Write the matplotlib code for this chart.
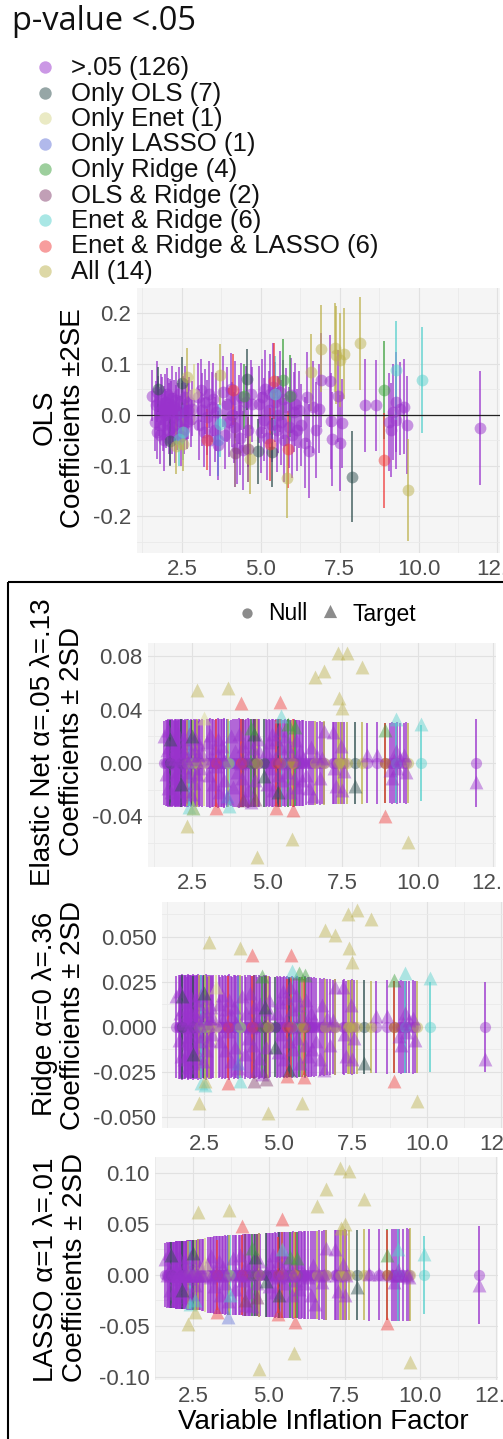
import matplotlib
matplotlib.use("Agg")
import matplotlib.pyplot as plt
from matplotlib.patches import Rectangle
import numpy as np

plt.rcParams['font.family'] = ['Liberation Sans', 'DejaVu Sans']
plt.rcParams['axes.unicode_minus'] = False

# ---------------- groups ----------------
group_labels = [">.05 (126)", "Only OLS (7)", "Only Enet (1)", "Only LASSO (1)",
                "Only Ridge (4)", "OLS & Ridge (2)", "Enet & Ridge (6)",
                "Enet & Ridge & LASSO (6)", "All (14)"]
group_n = [126, 7, 1, 1, 4, 2, 6, 6, 14]
group_colors = ["#9932CC", "#2F4F4F", "#D6D68A", "#6575D8", "#3CA03C",
                "#85406F", "#55D0CC", "#F03C3C", "#BDB24E"]

# ---------------- variable inflation factor ----------------
vif = (
    [1.57, 1.65, 1.68, 1.70, 1.72, 1.75, 1.78, 1.82, 1.85, 1.88,
     1.90, 1.93, 1.95, 1.97, 1.98, 2.00, 2.02, 2.05, 2.08, 2.10,
     2.12, 2.13, 2.15, 2.18, 2.20, 2.23, 2.26, 2.28, 2.30, 2.33,
     2.36, 2.38, 2.40, 2.43, 2.47, 2.50, 2.53, 2.56, 2.60, 2.63,
     2.66, 2.70, 2.74, 2.78, 2.82,
     3.00, 3.05, 3.10, 3.15, 3.20, 3.25, 3.30, 3.35, 3.40, 3.45,
     3.50, 3.55, 3.58, 3.65, 3.80, 3.87, 3.93, 4.00, 4.05, 4.10,
     4.15, 4.20, 4.25, 4.30, 4.35, 4.38, 4.45, 4.52, 4.60, 4.68,
     4.72,
     4.95, 5.00, 5.05, 5.10, 5.15, 5.20, 5.25, 5.30, 5.35, 5.40,
     5.45, 5.50, 5.55, 5.60, 5.65, 5.70, 5.75, 5.80, 5.90, 5.95,
     6.00, 6.05, 6.10, 6.15, 6.20, 6.28,
     6.40, 6.47, 6.53, 6.66, 6.76, 6.83, 6.90, 7.20, 7.22, 7.27,
     7.46, 7.50, 7.56, 8.30, 8.65, 9.07, 9.13, 9.20, 9.27, 9.30,
     9.42, 9.55, 9.62,
     11.95]
    + [1.76, 2.12, 2.50, 4.55, 4.90, 5.35, 7.90]          # Only OLS
    + [2.90]                                            # Only Enet
    + [3.65]                                            # Only LASSO
    + [4.46, 5.70, 5.92, 8.90]                          # Only Ridge
    + [4.20, 4.60]                                      # OLS & Ridge
    + [2.40, 2.55, 3.72, 5.45, 9.27, 10.12]             # Enet & Ridge
    + [3.30, 4.12, 5.30, 5.42, 5.86, 8.90]              # Enet & Ridge & LASSO
    + [2.33, 2.55, 2.67, 3.70, 4.66, 5.82, 6.59, 6.90, 7.36, 7.38,
       7.50, 7.64, 8.14, 9.67]                          # All
)

# ---------------- OLS coefficients and standard errors ----------------
ols_coef = (
    [0.037, -0.015, 0.018, 0.045, -0.035, 0.022, 0.005, -0.040, 0.030, 0.012,
     -0.020, 0.008, -0.050, 0.025, 0.000, -0.010, 0.040, 0.015, -0.030, 0.003,
     -0.045, 0.020, 0.010, -0.025, 0.033, -0.005, 0.015, -0.038, 0.008, 0.028,
     -0.018, 0.002, 0.040, -0.012, -0.042, 0.010, 0.020, -0.028, 0.035, 0.005,
     -0.015, 0.010, 0.025, -0.008, 0.012,
     0.035, -0.020, 0.048, 0.010, -0.035, 0.025, -0.005, 0.040, -0.050, 0.015,
     0.030, -0.030, 0.005, -0.060, 0.045, -0.040, 0.020, -0.015, 0.050, 0.000,
     -0.025, 0.030, -0.065, 0.010, -0.045, 0.035, -0.070, 0.025, -0.030, 0.040,
     0.020,
     0.020, -0.035, 0.035, -0.010, 0.050, -0.045, 0.010, 0.040, -0.020, 0.055,
     0.025, -0.030, 0.000, 0.045, -0.015, 0.030, -0.050, 0.015, -0.025, 0.038,
     -0.040, 0.005, 0.020, -0.030, 0.010, -0.020,
     -0.055, 0.035, -0.072, 0.015, -0.030, 0.012, 0.068, 0.066, -0.012, -0.048,
     0.037, -0.056, -0.017, 0.018, 0.018, -0.014, -0.030, 0.005, 0.025, -0.010,
     0.012, 0.016, -0.020,
     -0.027]
    + [0.050, -0.052, 0.062, 0.070, -0.072, -0.074, -0.122]
    + [0.040]
    + [-0.050]
    + [0.036, 0.069, 0.037, 0.049]
    + [-0.075, -0.068]
    + [-0.047, -0.035, -0.018, 0.040, 0.087, 0.068]
    + [-0.049, 0.049, -0.058, 0.066, -0.068, -0.090]
    + [-0.062, -0.058, 0.075, 0.078, -0.088, -0.124, 0.083, 0.130, 0.132, 0.117,
       0.107, 0.120, 0.140, -0.148]
)
ols_se = (
    [0.025, 0.028, 0.024, 0.030, 0.026, 0.027, 0.023, 0.029, 0.025, 0.031,
     0.026, 0.024, 0.030, 0.027, 0.025, 0.028, 0.026, 0.029, 0.024, 0.030,
     0.027, 0.025, 0.028, 0.026, 0.031, 0.024, 0.027, 0.029, 0.025, 0.028,
     0.026, 0.030, 0.027, 0.024, 0.029, 0.026, 0.028, 0.025, 0.030, 0.027,
     0.026, 0.029, 0.025, 0.028, 0.027,
     0.033, 0.035, 0.031, 0.036, 0.034, 0.032, 0.037, 0.033, 0.035, 0.034,
     0.036, 0.032, 0.038, 0.034, 0.035, 0.033, 0.037, 0.034, 0.036, 0.032,
     0.035, 0.038, 0.036, 0.034, 0.037, 0.033, 0.039, 0.035, 0.036, 0.034,
     0.037,
     0.038, 0.040, 0.037, 0.041, 0.039, 0.042, 0.038, 0.040, 0.037, 0.043,
     0.039, 0.041, 0.038, 0.040, 0.042, 0.039, 0.041, 0.038, 0.040, 0.037,
     0.042, 0.039, 0.041, 0.040, 0.038, 0.040,
     0.045, 0.044, 0.046, 0.045, 0.047, 0.044, 0.046, 0.045, 0.047, 0.046,
     0.045, 0.047, 0.044, 0.046, 0.045, 0.048, 0.046, 0.047, 0.049, 0.048,
     0.046, 0.047, 0.048,
     0.056]
    + [0.022, 0.024, 0.026, 0.030, 0.032, 0.034, 0.045]
    + [0.030]
    + [0.035]
    + [0.032, 0.040, 0.040, 0.048]
    + [0.034, 0.032]
    + [0.027, 0.027, 0.033, 0.038, 0.049, 0.052]
    + [0.030, 0.035, 0.036, 0.037, 0.038, 0.047]
    + [0.027, 0.026, 0.028, 0.030, 0.034, 0.040, 0.038, 0.043, 0.044, 0.048,
       0.046, 0.045, 0.046, 0.050]
)

# ---------------- Elastic net: target coefficients and null SD ----------------
enet_coef = (
    [0.020, -0.008, 0.010, 0.025, -0.019, 0.012, 0.003, -0.022, 0.016, 0.007,
     -0.011, 0.004, -0.027, 0.014, 0.000, -0.006, 0.022, 0.008, -0.016, 0.002,
     -0.025, 0.011, 0.006, -0.014, 0.018, -0.003, 0.008, -0.021, 0.004, 0.015,
     -0.010, 0.001, 0.022, -0.007, -0.023, 0.006, 0.011, -0.015, 0.019, 0.003,
     -0.008, 0.006, 0.014, -0.004, 0.007,
     0.016, -0.009, 0.021, 0.004, -0.016, 0.011, -0.002, 0.018, -0.022, 0.007,
     0.013, -0.013, 0.002, -0.026, 0.020, -0.018, 0.009, -0.007, 0.022, 0.000,
     -0.011, 0.013, -0.027, 0.004, -0.020, 0.016, -0.029, 0.011, -0.013, 0.018,
     0.009,
     0.009, -0.016, 0.016, -0.004, 0.022, -0.020, 0.004, 0.018, -0.009, 0.025,
     0.011, -0.013, 0.000, 0.020, -0.007, 0.013, -0.022, 0.007, -0.011, 0.017,
     -0.018, 0.002, 0.009, -0.013, 0.004, -0.009,
     -0.019, 0.012, -0.025, 0.005, -0.011, 0.004, 0.024, 0.023, -0.004, -0.017,
     0.013, -0.020, -0.006, 0.006, 0.006, -0.005, -0.011, 0.002, 0.009, -0.004,
     0.004, 0.006, -0.007,
     -0.014]
    + [0.018, -0.016, 0.020, 0.022, -0.010, -0.022, -0.017]
    + [0.034]
    + [-0.025]
    + [0.026, 0.029, 0.027, 0.025]
    + [-0.028, -0.027]
    + [-0.033, -0.034, -0.032, 0.035, 0.033, 0.029]
    + [-0.034, 0.045, -0.034, 0.046, -0.035, -0.040]
    + [-0.047, -0.034, 0.055, 0.056, -0.070, -0.057, 0.064, 0.069, 0.082, 0.049,
       0.041, 0.082, 0.072, -0.059]
)
enet_null_sd = (
    [0.0158, 0.0162, 0.0160, 0.0165, 0.0161, 0.0159, 0.0163, 0.0160, 0.0166, 0.0162,
     0.0158, 0.0164, 0.0161, 0.0160, 0.0163, 0.0159, 0.0165, 0.0162, 0.0160, 0.0164,
     0.0161, 0.0158, 0.0163, 0.0166, 0.0160, 0.0162, 0.0159, 0.0164, 0.0161, 0.0163,
     0.0160, 0.0165, 0.0158, 0.0162, 0.0164, 0.0161, 0.0159, 0.0163, 0.0160, 0.0166,
     0.0162, 0.0158, 0.0164, 0.0161, 0.0163,
     0.0165, 0.0163, 0.0167, 0.0164, 0.0166, 0.0162, 0.0165, 0.0168, 0.0164, 0.0166,
     0.0163, 0.0165, 0.0167, 0.0164, 0.0162, 0.0166, 0.0165, 0.0163, 0.0167, 0.0164,
     0.0166, 0.0165, 0.0162, 0.0164, 0.0167, 0.0165, 0.0163, 0.0166, 0.0164, 0.0165,
     0.0163,
     0.0164, 0.0162, 0.0165, 0.0161, 0.0163, 0.0166, 0.0162, 0.0164, 0.0160, 0.0163,
     0.0165, 0.0161, 0.0162, 0.0164, 0.0160, 0.0163, 0.0161, 0.0162, 0.0164, 0.0160,
     0.0162, 0.0161, 0.0159, 0.0162, 0.0160, 0.0158,
     0.0158, 0.0156, 0.0157, 0.0155, 0.0156, 0.0154, 0.0155, 0.0153, 0.0154, 0.0152,
     0.0155, 0.0153, 0.0152, 0.0151, 0.0153, 0.0150, 0.0152, 0.0151, 0.0150, 0.0152,
     0.0151, 0.0150, 0.0152,
     0.0163]
    + [0.0161, 0.0163, 0.0160, 0.0165, 0.0164, 0.0163, 0.0152]
    + [0.0162]
    + [0.0165]
    + [0.0165, 0.0163, 0.0162, 0.0151]
    + [0.0166, 0.0164]
    + [0.0160, 0.0162, 0.0158, 0.0165, 0.0150, 0.0142]
    + [0.0163, 0.0165, 0.0162, 0.0164, 0.0163, 0.0150]
    + [0.0160, 0.0161, 0.0163, 0.0164, 0.0165, 0.0162, 0.0157, 0.0156, 0.0154, 0.0153,
       0.0155, 0.0154, 0.0152, 0.0151]
)

# ---------------- Ridge ----------------
ridge_coef = (
    [0.017, -0.007, 0.008, 0.020, -0.016, 0.010, 0.002, -0.018, 0.014, 0.005,
     -0.009, 0.004, -0.022, 0.011, 0.000, -0.005, 0.018, 0.007, -0.014, 0.001,
     -0.020, 0.009, 0.005, -0.011, 0.015, -0.002, 0.007, -0.017, 0.004, 0.013,
     -0.008, 0.001, 0.018, -0.005, -0.019, 0.005, 0.009, -0.013, 0.016, 0.002,
     -0.007, 0.005, 0.011, -0.004, 0.005,
     0.013, -0.008, 0.018, 0.004, -0.013, 0.010, -0.002, 0.015, -0.019, 0.006,
     0.011, -0.011, 0.002, -0.023, 0.017, -0.015, 0.008, -0.006, 0.019, 0.000,
     -0.010, 0.011, -0.024, 0.004, -0.017, 0.013, -0.026, 0.010, -0.011, 0.015,
     0.008,
     0.008, -0.014, 0.014, -0.004, 0.020, -0.018, 0.004, 0.016, -0.008, 0.022,
     0.010, -0.012, 0.000, 0.018, -0.006, 0.012, -0.020, 0.006, -0.010, 0.015,
     -0.016, 0.002, 0.008, -0.012, 0.004, -0.008,
     -0.018, 0.012, -0.024, 0.005, -0.010, 0.004, 0.022, 0.022, -0.004, -0.016,
     0.012, -0.018, -0.006, 0.006, 0.006, -0.005, -0.010, 0.002, 0.008, -0.003,
     0.004, 0.005, -0.007,
     -0.018]
    + [0.017, -0.015, 0.019, 0.011, -0.011, -0.024, -0.020]
    + [0.022]
    + [-0.020]
    + [0.0285, 0.030, 0.029, 0.026]
    + [-0.030, -0.029]
    + [-0.031, -0.032, -0.030, 0.031, 0.030, 0.027]
    + [-0.031, 0.040, -0.027, 0.040, -0.028, -0.030]
    + [-0.042, -0.030, 0.047, 0.044, -0.048, -0.042, 0.054, 0.051, 0.063, 0.044,
       0.036, 0.065, 0.060, -0.041]
)
ridge_null_sd = (
    [0.0142, 0.0145, 0.0140, 0.0144, 0.0143, 0.0146, 0.0141, 0.0144, 0.0142, 0.0145,
     0.0143, 0.0140, 0.0144, 0.0146, 0.0142, 0.0143, 0.0145, 0.0141, 0.0144, 0.0142,
     0.0146, 0.0143, 0.0140, 0.0145, 0.0142, 0.0144, 0.0141, 0.0143, 0.0146, 0.0142,
     0.0144, 0.0140, 0.0145, 0.0143, 0.0141, 0.0144, 0.0142, 0.0146, 0.0143, 0.0140,
     0.0145, 0.0142, 0.0144, 0.0141, 0.0143,
     0.0143, 0.0140, 0.0145, 0.0142, 0.0144, 0.0141, 0.0143, 0.0146, 0.0142, 0.0140,
     0.0144, 0.0143, 0.0141, 0.0145, 0.0142, 0.0144, 0.0140, 0.0143, 0.0145, 0.0141,
     0.0142, 0.0144, 0.0143, 0.0140, 0.0145, 0.0142, 0.0141, 0.0144, 0.0143, 0.0142,
     0.0140,
     0.0141, 0.0139, 0.0142, 0.0140, 0.0138, 0.0141, 0.0139, 0.0142, 0.0140, 0.0138,
     0.0141, 0.0139, 0.0137, 0.0140, 0.0142, 0.0138, 0.0140, 0.0139, 0.0141, 0.0137,
     0.0139, 0.0140, 0.0138, 0.0136, 0.0139, 0.0137,
     0.0135, 0.0133, 0.0136, 0.0132, 0.0134, 0.0131, 0.0133, 0.0130, 0.0132, 0.0129,
     0.0131, 0.0133, 0.0130, 0.0129, 0.0131, 0.0128, 0.0130, 0.0129, 0.0127, 0.0129,
     0.0128, 0.0130, 0.0128,
     0.0125]
    + [0.0144, 0.0142, 0.0143, 0.0141, 0.0140, 0.0139, 0.0130]
    + [0.0143]
    + [0.0142]
    + [0.0138, 0.0140, 0.0138, 0.0127]
    + [0.0143, 0.0141]
    + [0.0143, 0.0145, 0.0142, 0.0140, 0.0128, 0.0126]
    + [0.0141, 0.0142, 0.0132, 0.0140, 0.0134, 0.0128]
    + [0.0143, 0.0144, 0.0142, 0.0143, 0.0141, 0.0139, 0.0134, 0.0133, 0.0131, 0.0130,
       0.0130, 0.0131, 0.0129, 0.0127]
)

# ---------------- LASSO ----------------
lasso_coef = (
    [0.016, 0.000, 0.003, 0.022, -0.015, 0.005, 0.000, -0.018, 0.011, 0.000,
     -0.004, 0.000, -0.025, 0.008, 0.000, 0.000, 0.018, 0.000, -0.011, 0.000,
     -0.022, 0.004, 0.000, -0.008, 0.013, 0.000, 0.000, -0.017, 0.000, 0.010,
     -0.003, 0.000, 0.018, 0.000, -0.019, 0.000, 0.004, -0.010, 0.015, 0.000,
     0.000, 0.000, 0.008, 0.000, 0.000,
     0.011, -0.002, 0.019, 0.000, -0.011, 0.005, 0.000, 0.014, -0.020, 0.000,
     0.008, -0.008, 0.000, -0.026, 0.017, -0.014, 0.002, 0.000, 0.020, 0.000,
     -0.005, 0.008, -0.029, 0.000, -0.017, 0.011, -0.030, 0.005, -0.008, 0.014,
     0.002,
     0.002, -0.011, 0.011, 0.000, 0.020, -0.017, 0.000, 0.014, -0.002, 0.023,
     0.005, -0.008, 0.000, 0.017, 0.000, 0.008, -0.020, 0.000, -0.005, 0.013,
     -0.014, 0.000, 0.002, -0.008, 0.000, -0.002,
     -0.020, 0.010, -0.028, 0.000, -0.007, 0.000, 0.026, 0.025, 0.000, -0.016,
     0.011, -0.020, 0.000, 0.001, 0.001, 0.000, -0.007, 0.000, 0.005, 0.000,
     0.000, 0.000, -0.002,
     -0.010]
    + [0.020, -0.015, 0.022, 0.018, -0.006, -0.020, -0.012]
    + [0.012]
    + [-0.041]
    + [0.026, 0.018, 0.017, 0.020]
    + [-0.025, -0.022]
    + [-0.028, -0.025, -0.020, 0.025, 0.025, 0.021]
    + [-0.036, 0.048, -0.038, 0.055, -0.046, -0.047]
    + [-0.048, -0.036, 0.062, 0.064, -0.092, -0.077, 0.068, 0.084, 0.105, 0.046,
       0.050, 0.102, 0.075, -0.085]
)
lasso_null_sd = (
    [0.0158, 0.0160, 0.0159, 0.0161, 0.0162, 0.0161, 0.0163, 0.0162, 0.0164, 0.0164,
     0.0163, 0.0165, 0.0165, 0.0164, 0.0166, 0.0166, 0.0165, 0.0167, 0.0166, 0.0167,
     0.0168, 0.0167, 0.0168, 0.0168, 0.0169, 0.0168, 0.0169, 0.0169, 0.0170, 0.0170,
     0.0170, 0.0171, 0.0170, 0.0171, 0.0172, 0.0171, 0.0172, 0.0173, 0.0172, 0.0173,
     0.0174, 0.0173, 0.0174, 0.0175, 0.0175,
     0.0185, 0.0187, 0.0186, 0.0188, 0.0190, 0.0189, 0.0191, 0.0190, 0.0192, 0.0193,
     0.0192, 0.0194, 0.0193, 0.0195, 0.0196, 0.0195, 0.0197, 0.0196, 0.0198, 0.0197,
     0.0199, 0.0200, 0.0199, 0.0201, 0.0200, 0.0202, 0.0201, 0.0203, 0.0202, 0.0204,
     0.0203,
     0.0205, 0.0207, 0.0206, 0.0208, 0.0207, 0.0209, 0.0208, 0.0210, 0.0209, 0.0211,
     0.0210, 0.0212, 0.0211, 0.0210, 0.0212, 0.0213, 0.0212, 0.0214, 0.0213, 0.0212,
     0.0214, 0.0215, 0.0213, 0.0215, 0.0214, 0.0216,
     0.0216, 0.0218, 0.0217, 0.0219, 0.0218, 0.0220, 0.0219, 0.0221, 0.0220, 0.0222,
     0.0221, 0.0223, 0.0222, 0.0224, 0.0223, 0.0225, 0.0224, 0.0226, 0.0225, 0.0227,
     0.0226, 0.0228, 0.0227,
     0.0238]
    + [0.0160, 0.0166, 0.0172, 0.0203, 0.0206, 0.0209, 0.0221]
    + [0.0182]
    + [0.0195]
    + [0.0202, 0.0211, 0.0212, 0.0223]
    + [0.0200, 0.0203]
    + [0.0168, 0.0172, 0.0194, 0.0211, 0.0226, 0.0190]
    + [0.0170, 0.0198, 0.0185, 0.0210, 0.0212, 0.0222]
    + [0.0166, 0.0170, 0.0174, 0.0194, 0.0204, 0.0213, 0.0217, 0.0219, 0.0220, 0.0221,
       0.0221, 0.0222, 0.0223, 0.0228]
)

# axis tick labels
x_ticks = [2.5, 5.0, 7.5, 10.0, 12.5]
x_tick_labels = ["2.5", "5.0", "7.5", "10.0", "12.5"]
ols_ticks = [-0.2, -0.1, 0.0, 0.1, 0.2]
ols_tick_labels = ["-0.2", "-0.1", "0.0", "0.1", "0.2"]
enet_ticks = [-0.04, 0.0, 0.04, 0.08]
enet_tick_labels = ["-0.04", "0.00", "0.04", "0.08"]
ridge_ticks = [-0.050, -0.025, 0.0, 0.025, 0.050]
ridge_tick_labels = ["-0.050", "-0.025", "0.000", "0.025", "0.050"]
lasso_ticks = [-0.10, -0.05, 0.0, 0.05, 0.10]
lasso_tick_labels = ["-0.10", "-0.05", "0.00", "0.05", "0.10"]

# ---------------- assemble ----------------
N = sum(group_n)
arrays = [vif, ols_coef, ols_se, enet_coef, enet_null_sd, ridge_coef,
          ridge_null_sd, lasso_coef, lasso_null_sd]
for a in arrays:
    assert len(a) == N, len(a)
vif_a = np.array(vif)
grp = np.repeat(np.arange(len(group_n)), group_n)

W, H = 503, 1439
fig = plt.figure(figsize=(W / 100, H / 100), dpi=100)


def add_panel(l, t, r, b):
    return fig.add_axes([l / W, 1 - b / H, (r - l) / W, (b - t) / H])


def midpoints(ticks, lo, hi):
    t = list(ticks)
    step = t[1] - t[0]
    out = []
    v = t[0] - step / 2
    while v < hi:
        if v > lo:
            out.append(v)
        v += step
    return out


def style(ax, xlim, ylim, yt, ytl):
    ax.set_facecolor('#F5F5F5')
    for s in ax.spines.values():
        s.set_visible(False)
    ax.set_xlim(*xlim)
    ax.set_ylim(*ylim)
    ax.set_xticks(x_ticks)
    ax.set_xticklabels(x_tick_labels)
    ax.set_yticks(yt)
    ax.set_yticklabels(ytl)
    ax.set_xticks(midpoints(x_ticks, *xlim), minor=True)
    ax.set_yticks(midpoints(yt, *ylim), minor=True)
    ax.tick_params(which='both', length=0, labelsize=16, labelcolor='#4D4D4D', pad=4)
    ax.grid(True, which='major', color='#E1E1E1', lw=0.8)
    ax.grid(True, which='minor', color='#EAEAEA', lw=0.6)
    ax.set_axisbelow(True)


# ---------------- OLS panel ----------------
ax = add_panel(137, 288, 500, 553)
style(ax, (1.08, 12.58), (-0.272, 0.249), ols_ticks, ols_tick_labels)
c = np.array(ols_coef)
se = np.array(ols_se)
for g in range(len(group_n)):
    m = grp == g
    ax.vlines(vif_a[m], c[m] - 2 * se[m], c[m] + 2 * se[m], colors=group_colors[g],
              alpha=0.75, lw=1.3, zorder=2)
ax.axhline(0, color='#222222', lw=0.9, zorder=2.5)
for g in range(len(group_n)):
    m = grp == g
    ax.scatter(vif_a[m], c[m], s=72, color=group_colors[g], alpha=0.5, lw=0, zorder=3)


def penalized(box, xlim, ylim, yt, ytl, coef, sd):
    ax = add_panel(*box)
    style(ax, xlim, ylim, yt, ytl)
    coef = np.array(coef)
    sd = np.array(sd)
    for g in range(len(group_n)):
        m = grp == g
        ax.vlines(vif_a[m], -2 * sd[m], 2 * sd[m], colors=group_colors[g],
                  alpha=0.8, lw=1.3, zorder=2)
    for g in range(len(group_n)):
        m = grp == g
        ax.scatter(vif_a[m], np.zeros(m.sum()), s=65, marker='o', color=group_colors[g],
                   alpha=0.45, lw=0, zorder=3)
    for g in range(len(group_n)):
        m = grp == g
        ax.scatter(vif_a[m], coef[m], s=100, marker='^', color=group_colors[g],
                   alpha=0.45, lw=0, zorder=3)
    return ax


penalized((148, 643, 496, 867), (1.04, 12.6), (-0.0778, 0.0898),
          enet_ticks, enet_tick_labels, enet_coef, enet_null_sd)
penalized((162, 902, 503, 1128), (1.09, 12.57), (-0.0561, 0.0694),
          ridge_ticks, ridge_tick_labels, ridge_coef, ridge_null_sd)
penalized((155, 1157, 498, 1380), (1.24, 12.57), (-0.103, 0.1157),
          lasso_ticks, lasso_tick_labels, lasso_coef, lasso_null_sd)

# ---------------- overlay: legends, labels, frame ----------------
ov = fig.add_axes([0, 0, 1, 1])
ov.set_xlim(0, W)
ov.set_ylim(H, 0)
ov.axis('off')
ov.patch.set_alpha(0)

ov.text(12, 22, "p-value <.05", fontsize=23.5, family=['Open Sans', 'DejaVu Sans'],
        va='center', ha='left', color='#111111')
for i, (lab, col) in enumerate(zip(group_labels, group_colors)):
    y = 67 + 25.5 * i
    ov.scatter([45], [y], s=80, color=col, alpha=0.5, lw=0)
    ov.text(71, y + 1, lab, fontsize=18.5, va='center', ha='left', color='#111111')

ov.scatter([247], [613], s=55, marker='o', color='#8C8C8C', lw=0)
ov.text(268, 614, "Null", fontsize=16.5, va='center', ha='left')
ov.scatter([330], [611], s=90, marker='^', color='#8C8C8C', lw=0)
ov.text(353, 614, "Target", fontsize=16.5, va='center', ha='left')

ylab_kw = dict(fontsize=20, rotation=90, va='center', ha='center', color='black')
ov.text(45, 417, "OLS", **ylab_kw)
ov.text(73, 418, "Coefficients \u00b12SE", **ylab_kw)
ov.text(43, 742, "Elastic Net \u03b1=.05 \u03bb=.13", **ylab_kw)
ov.text(72, 742, "Coefficients \u00b1 2SD", **ylab_kw)
ov.text(45, 1014, "Ridge \u03b1=0 \u03bb=.36", **ylab_kw)
ov.text(73, 1015, "Coefficients \u00b1 2SD", **ylab_kw)
ov.text(46, 1270, "LASSO \u03b1=1 \u03bb=.01", **ylab_kw)
ov.text(75, 1268, "Coefficients \u00b1 2SD", **ylab_kw)
ov.text(323, 1422, "Variable Inflation Factor", fontsize=20, va='center', ha='center')

ov.add_patch(Rectangle((8, 582), 700, 1000, fill=False, edgecolor='black', lw=1.5))

fig.savefig("out.png", dpi=100)
